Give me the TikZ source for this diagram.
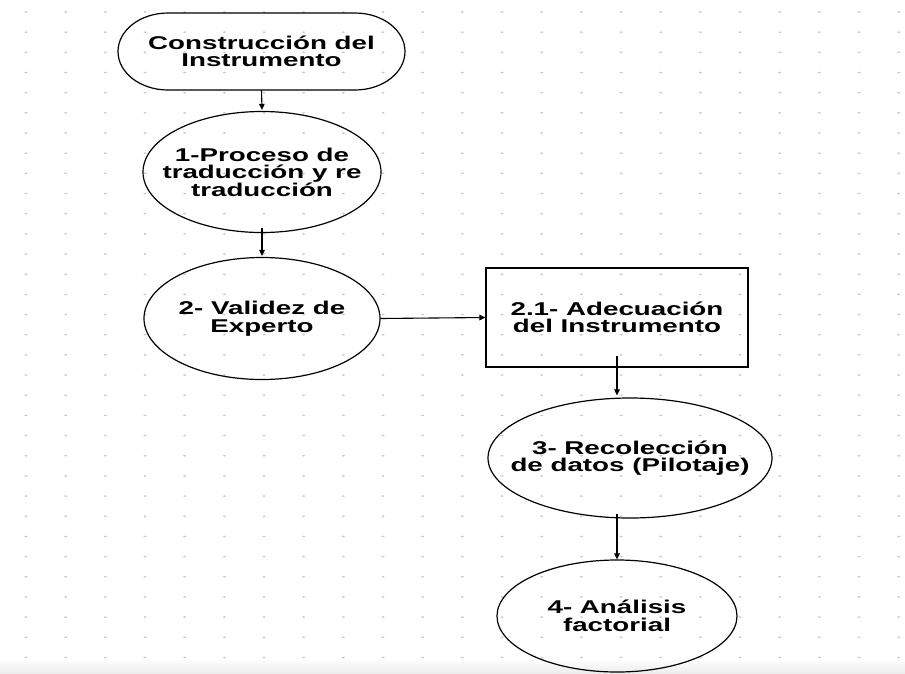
\documentclass[tikz,border=0pt]{standalone}
\usepackage{fontspec}
\setmainfont{Liberation Sans}[FakeStretch=1.5]
\usetikzlibrary{shapes.geometric,arrows.meta}
\definecolor{dotgray}{HTML}{C9C9C9}
\tikzset{
  shapeline/.style={draw=black, line width=1.2pt},
  ell/.style={shapeline, ellipse, inner sep=0pt},
  boxnode/.style={shapeline, rectangle, inner sep=0pt},
  lbl/.style={font=\bfseries\fontsize{18.5}{17.5}\selectfont, align=center, inner sep=0pt},
  arr/.style={draw=black, line width=1.1pt, -{Triangle[length=6pt,width=5.5pt]}}
}
\begin{document}
\begin{tikzpicture}[x=1pt,y=-1pt]
  % canvas
  \useasboundingbox (0,0) rectangle (905,673);
  \fill[white] (0,0) rectangle (905,673);
  \shade[top color=white, bottom color=black!7] (0,658) rectangle (905,673);
  % dotted grid
  \foreach \i in {0,...,22}
    \foreach \j in {0,...,32}
      \fill[dotgray] (26+39.67*\i, 12+20.17*\j) ellipse[x radius=1.7, y radius=0.9];

  % start terminal (pill with elliptical ends)
  \node[minimum width=287pt, minimum height=77pt, inner sep=0pt] (s0) at (261.5,51.5) {};
  \draw[shapeline] (168,13) -- (355,13)
    arc[start angle=-90, end angle=90, x radius=50, y radius=38.5]
    -- (168,90)
    arc[start angle=90, end angle=270, x radius=50, y radius=38.5] -- cycle;
  \node[lbl] (s0t) at (s0) {Construcción del\\Instrumento};

  % process steps
  \node[ell, minimum width=238pt, minimum height=121pt] (e1) at (262,172) {};
  \node[lbl] (e1t) at (e1) {1-Proceso de\\traducción y re\\traducción};

  \node[ell, minimum width=236pt, minimum height=122pt] (e2) at (262,318.5) {};
  \node[lbl] (e2t) at (e2) {2- Validez de\\Experto};

  \node[boxnode, minimum width=262pt, minimum height=99pt] (b1) at (617,317.5) {};
  \node[lbl] (b1t) at (b1) {2.1- Adecuación\\del Instrumento};

  \node[ell, minimum width=284pt, minimum height=120pt] (e3) at (630,458) {};
  \node[lbl] (e3t) at (e3) {3- Recolección\\de datos (Pilotaje)};

  \node[ell, minimum width=240pt, minimum height=112pt] (e4) at (617,616) {};
  \node[lbl] (e4t) at (e4) {4- Análisis\\factorial};

  % connectors
  \draw[arr] (s0.south) -- ([yshift=1pt]e1.north);
  \draw[arr] ([yshift=5pt]e1.south) -- ([yshift=1pt]e2.north);
  \draw[arr] (e2.east) -- (b1.west);
  \draw[arr] ([yshift=12pt]b1.south) -- ([yshift=2pt]b1.south |- e3.north);
  \draw[arr] ([yshift=5pt]e3.south -| e4.north) -- (e4.north);
\end{tikzpicture}
\end{document}
